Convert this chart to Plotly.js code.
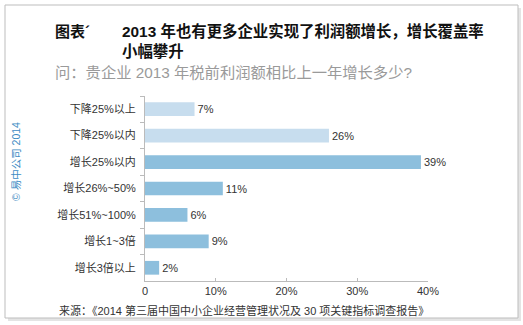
<!DOCTYPE html>
<html><head><meta charset="utf-8">
<script src="https://cdn.plot.ly/plotly-3.0.1.min.js"></script>
<style>html,body{margin:0;padding:0;background:#fff;}#chart{width:523px;height:325px;}</style>
</head><body><div id="chart"></div>
<script>
const categories = ["下降25%以上","下降25%以内","增长25%以内","增长26%~50%","增长51%~100%","增长1~3倍","增长3倍以上"];
const values = [7, 26, 39, 11, 6, 9, 2];
const valueLabels = ["7%","26%","39%","11%","6%","9%","2%"];
const barColors = ["#c7ddee","#c7ddee","#8dbfdd","#8dbfdd","#8dbfdd","#8dbfdd","#8dbfdd"];
const xTickVals = [0,10,20,30,40];
const xTickText = ["0","10%","20%","30%","40%"];

const FONT = "Liberation Sans, Noto Sans CJK SC, sans-serif";
const L=145, R=428, T=96, B=281;
const px = x => (x-L)/(R-L);
const py = y => (B-y)/(B-T);

const trace = {
  type:'bar', orientation:'h',
  y: categories, x: values,
  text: valueLabels, textposition:'outside', cliponaxis:false,
  textfont:{family:FONT,size:11,color:'#333'},
  marker:{color:barColors},
  hoverinfo:'skip'
};
const layout = {
  width:523, height:325,
  margin:{l:L, r:523-R, t:T, b:325-B},
  paper_bgcolor:'rgba(0,0,0,0)', plot_bgcolor:'rgba(0,0,0,0)',
  bargap:0.48,
  showlegend:false,
  font:{family:FONT,size:11,color:'#333'},
  xaxis:{range:[0,40], tickvals:xTickVals, ticktext:xTickText, showgrid:false, zeroline:false,
         showline:true, linecolor:'#bbb', linewidth:1, ticks:'inside', ticklen:3, tickcolor:'#bbb',
         tickfont:{family:FONT,size:11,color:'#333'}, fixedrange:true},
  yaxis:{autorange:'reversed', showgrid:false, zeroline:false, showline:true, linecolor:'#bbb', linewidth:1,
         ticks:'outside', ticklen:4, tickcolor:'#bbb', tickson:'boundaries', ticklabelstandoff:6,
         tickfont:{family:FONT,size:11,color:'#333'}, fixedrange:true},
  shapes:[
    {type:'rect', xref:'paper', yref:'paper', x0:px(8), x1:px(521), y0:py(321), y1:py(8), line:{width:0}, fillcolor:'#e4e4e4', layer:'below'},
    {type:'rect', xref:'paper', yref:'paper', x0:px(5), x1:px(518), y0:py(318), y1:py(5), line:{color:'#bdbdbd',width:1}, fillcolor:'#ffffff', layer:'below'}
  ],
  annotations:[
    {xref:'paper', yref:'paper', x:px(53), y:py(31), xanchor:'left', yanchor:'middle', showarrow:false,
     text:'<b>图表´</b>', font:{family:FONT,size:15,color:'#111'}},
    {xref:'paper', yref:'paper', x:px(120), y:py(31), xanchor:'left', yanchor:'middle', showarrow:false,
     text:'<b>2013 年也有更多企业实现了利润额增长，增长覆盖率</b>', font:{family:FONT,size:15.4,color:'#111'}},
    {xref:'paper', yref:'paper', x:px(120), y:py(51), xanchor:'left', yanchor:'middle', showarrow:false,
     text:'<b>小幅攀升</b>', font:{family:FONT,size:15.4,color:'#111'}},
    {xref:'paper', yref:'paper', x:px(53), y:py(73), xanchor:'left', yanchor:'middle', showarrow:false,
     text:'问：贵企业 2013 年税前利润额相比上一年增长多少?', font:{family:FONT,size:15.3,color:'#9a9a9a'}},
    {xref:'paper', yref:'paper', x:px(57), y:py(310), xanchor:'left', yanchor:'middle', showarrow:false,
     text:'来源：《2014 第三届中国中小企业经营管理状况及 30 项关键指标调查报告》', font:{family:FONT,size:11,color:'#333'}},
    {xref:'paper', yref:'paper', x:px(16), y:py(162), xanchor:'center', yanchor:'middle', showarrow:false, textangle:-90,
     text:'© 易中公司 2014', font:{family:FONT,size:10.5,color:'#3d8bc4'}}
  ]
};
Plotly.newPlot('chart',[trace],layout,{staticPlot:true,displayModeBar:false});
</script></body></html>
